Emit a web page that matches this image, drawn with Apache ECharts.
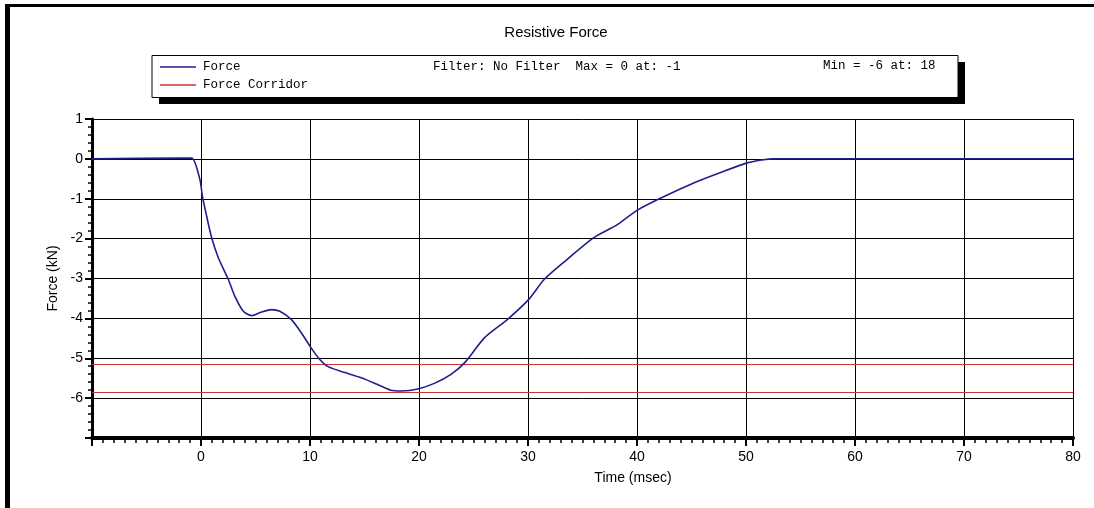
<!DOCTYPE html>
<html>
<head>
<meta charset="utf-8">
<script src="https://cdn.jsdelivr.net/npm/echarts@6/dist/echarts.min.js"></script>
<style>
html,body{margin:0;padding:0;background:#fff;}
#chart{width:1094px;height:508px;}
</style>
</head>
<body>
<div id="chart"></div>
<script>
// ---- data ----
const timeMs = [-10, -2, -0.85, -0.1, 0.13, 0.52, 0.98, 1.59, 2.5, 3.1, 3.88, 4.64, 5.55, 6.47, 7.23, 8.3, 9.2, 10.1, 10.9, 11.66, 13.2, 14.7, 16.2, 17.4, 18.4, 19.9, 21.4, 22.9, 24.2, 26.0, 28.1, 30.05, 31.5, 33.6, 36.0, 38.2, 40.0, 42.2, 44.9, 47.6, 50.1, 51.6, 52.5, 80];
const forceKN = [0, 0.02, 0.02, -0.52, -0.94, -1.44, -1.98, -2.48, -3.02, -3.44, -3.82, -3.93, -3.84, -3.78, -3.82, -4.03, -4.36, -4.74, -5.03, -5.21, -5.36, -5.49, -5.66, -5.80, -5.82, -5.77, -5.63, -5.41, -5.11, -4.49, -4.03, -3.53, -3.02, -2.52, -1.98, -1.65, -1.29, -0.98, -0.64, -0.35, -0.10, -0.02, 0, 0];
const corridorKN = [-5.15, -5.85];
const seriesNames = ['Force', 'Force Corridor'];
const titleText = 'Resistive Force';
const filterText = 'Filter: No Filter  Max = 0 at: -1';
const minText = 'Min = -6 at: 18';
const xName = 'Time (msec)';
const yName = 'Force (kN)';

const forceData = timeMs.map((t, i) => [t, forceKN[i]]);

const chart = echarts.init(document.getElementById('chart'), null, {renderer: 'canvas'});
const sans = 'Liberation Sans, Arial, sans-serif';
const mono = 'Liberation Mono, monospace';

chart.setOption({
  animation: false,
  backgroundColor: '#fff',
  grid: {left: 92, right: 21, top: 119, bottom: 70, containLabel: false},
  legend: {
    show: true, selectedMode: false, orient: 'vertical',
    left: 160, top: 60, padding: 0, itemGap: 4,
    itemWidth: 36, itemHeight: 1.5, icon: 'rect', z: 10,
    data: seriesNames,
    textStyle: {fontFamily: mono, fontSize: 12.5, color: '#000', lineHeight: 14, padding: [0, 0, 0, 2]}
  },
  graphic: [
    {type: 'rect', z: 0, shape: {x: 5, y: 4, width: 5, height: 504}, style: {fill: '#000'}},
    {type: 'rect', z: 0, shape: {x: 5, y: 4, width: 1089, height: 3}, style: {fill: '#000'}},
    {type: 'rect', z: 0, shape: {x: 159, y: 62, width: 806, height: 42}, style: {fill: '#000'}},
    {type: 'rect', z: 1, shape: {x: 152, y: 55.5, width: 806, height: 42}, style: {fill: '#fff', stroke: '#000', lineWidth: 1}},
    {type: 'text', z: 2, x: 433, y: 67, style: {text: filterText, font: '12.5px ' + mono, fill: '#000', textVerticalAlign: 'middle'}},
    {type: 'text', z: 2, x: 823, y: 66, style: {text: minText, font: '12.5px ' + mono, fill: '#000', textVerticalAlign: 'middle'}},
    {type: 'text', z: 2, x: 556, y: 33, style: {text: titleText, font: '15px ' + sans, fill: '#000', textAlign: 'center', textVerticalAlign: 'middle'}}
  ],
  xAxis: {
    type: 'value', min: -10, max: 80, interval: 10,
    name: xName, nameLocation: 'middle', nameGap: 33,
    nameTextStyle: {fontFamily: sans, fontSize: 14, color: '#000', padding: [0, 0, 0, 101]},
    axisLine: {show: true, onZero: false, lineStyle: {color: '#000', width: 4}},
    axisTick: {show: true, inside: false, length: 8, lineStyle: {color: '#000', width: 2}},
    minorTick: {show: true, splitNumber: 10, length: 5, lineStyle: {color: '#000', width: 1.5}},
    splitLine: {show: true, lineStyle: {color: '#000', width: 1}},
    axisLabel: {showMinLabel: false, fontFamily: sans, fontSize: 14, color: '#000', margin: 12}
  },
  yAxis: {
    type: 'value', min: -7, max: 1, interval: 1,
    name: yName, nameLocation: 'middle', nameGap: 31,
    nameTextStyle: {fontFamily: sans, fontSize: 14, color: '#000'},
    axisLine: {show: true, onZero: false, lineStyle: {color: '#000', width: 3}},
    axisTick: {show: true, inside: false, length: 7, lineStyle: {color: '#000', width: 2}},
    minorTick: {show: true, splitNumber: 5, length: 4, lineStyle: {color: '#000', width: 1.5}},
    splitLine: {show: true, lineStyle: {color: '#000', width: 1}},
    axisLabel: {showMinLabel: false, fontFamily: sans, fontSize: 14, color: '#000', margin: 9}
  },
  series: [
    {
      name: seriesNames[0], type: 'line', data: forceData, showSymbol: false, symbol: 'none',
      smooth: 0.25,
      color: '#1f1f8c', lineStyle: {color: '#1f1f8c', width: 1.6}, z: 5
    },
    {
      name: seriesNames[1], type: 'line', data: [], showSymbol: false, symbol: 'none',
      color: '#cc3333', lineStyle: {color: '#cc3333', width: 1.2}, z: 4,
      markLine: {
        silent: true, symbol: 'none', animation: false,
        label: {show: false},
        lineStyle: {color: '#cc3333', width: 1.2, type: 'solid'},
        data: corridorKN.map(v => ({yAxis: v}))
      }
    }
  ]
});
</script>
</body>
</html>
